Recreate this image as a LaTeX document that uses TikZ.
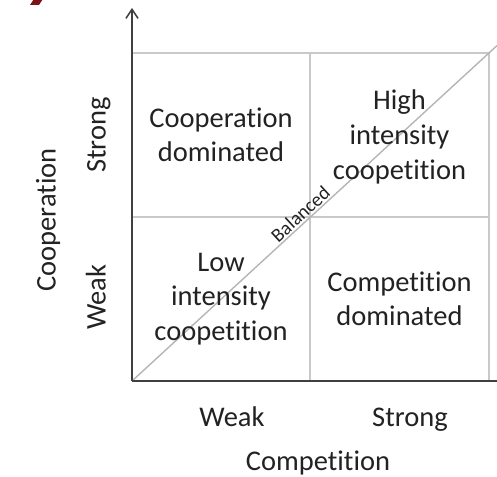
\documentclass[tikz,border=0pt]{standalone}
\usepackage{fontspec}
\setmainfont{Carlito}[Ligatures=NoCommon]
\usetikzlibrary{arrows.meta}
\definecolor{ink}{HTML}{222222}
\definecolor{axisgrey}{HTML}{404040}
\definecolor{gridgrey}{HTML}{C9C9C9}
\definecolor{diaggrey}{HTML}{B5B5B5}
\definecolor{logored}{HTML}{7A1418}
\begin{document}
\begin{tikzpicture}[x=1pt,y=1pt,
  cell/.style={align=center,text=ink,font=\fontsize{28.5}{34.6}\selectfont,inner sep=0pt},
  axlabel/.style={text=ink,font=\fontsize{28.5}{34.6}\selectfont,inner sep=0pt,anchor=base},
  gridline/.style={draw=gridgrey,line width=2.2pt},
  axisline/.style={draw=axisgrey,line width=2pt},
  diagline/.style={draw=diaggrey,line width=1.4pt}]
\useasboundingbox (0,0) rectangle (497,476);
\clip (0,0) rectangle (497,476);

% corner mark
\fill[logored] (30,471) -- (39,471) -- (45,480) -- (36,480) -- cycle;

% frame corners and quadrant split
\coordinate (O)  at (132,95);
\coordinate (TL) at (132,423);
\coordinate (TR) at (489,423);
\coordinate (BR) at (489,95);
\coordinate (MT) at (310,423);
\coordinate (MB) at (310,95);
\coordinate (ML) at (132,259);
\coordinate (MR) at (489,259);
\coordinate (Ytip) at (132,468);
\coordinate (Xend) at (497,95);
\coordinate (Dend) at (497,430.4);

% grey grid
\draw[gridline] (TL) -- (TR) -- (BR);
\draw[gridline] (MT) -- (MB);
\draw[gridline] (ML) -- (MR);

% diagonal with its label
\draw[diagline] (O) -- (Dend)
  node[pos=0.478,sloped,above,inner sep=1.5pt,text=ink,
       font=\fontsize{19.5}{22}\selectfont] (bal) {Balanced};

% axes
\draw[axisline] (O) -- (Xend);
\draw[axisline,-{Straight Barb[length=9pt,width=12pt,line width=1.5pt]}] (O) -- (Ytip);

% quadrant texts
\node[cell] (c1) at (221,341) {Cooperation\\dominated};
\node[cell] (c2) at (399.5,339) {High\\intensity\\coopetition};
\node[cell] (c3) at (221,177) {Low\\intensity\\coopetition};
\node[cell] (c4) at (399.5,177) {Competition\\dominated};

% axis labels
\node[axlabel] (xw) at (232,50) {Weak};
\node[axlabel] (xs) at (410,50) {Strong};
\node[axlabel] (xt) at (318,6) {Competition};
\node[axlabel,rotate=90] (ys) at (105.5,341) {Strong};
\node[axlabel,rotate=90] (yw) at (105.5,179) {Weak};
\node[axlabel,rotate=90] (yt) at (55.5,256) {Cooperation};
\end{tikzpicture}
\end{document}
